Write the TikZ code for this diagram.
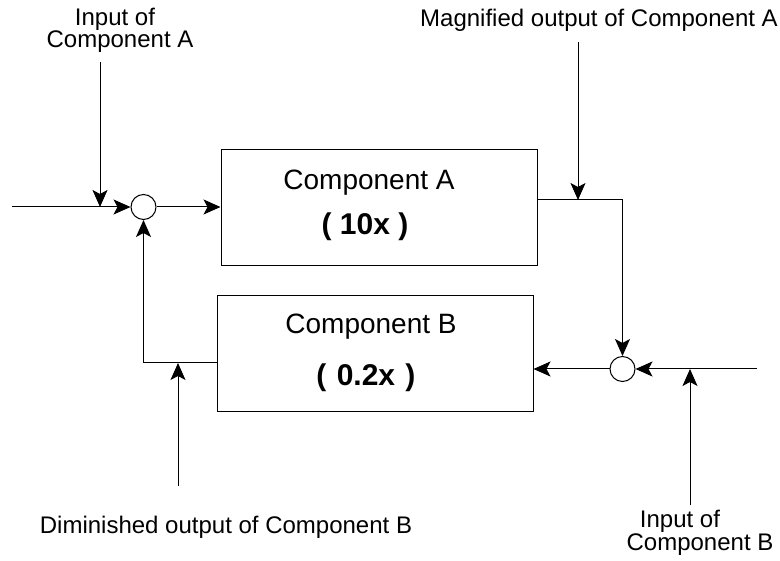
\documentclass[tikz,border=0pt]{standalone}
\usepackage{fontspec}
\setmainfont{Liberation Sans}
\usetikzlibrary{arrows.meta}
\begin{document}
\begin{tikzpicture}[x=1pt,y=-1pt,
  line width=1pt,
  arr/.style={-{Stealth[length=17pt,width=15pt,inset=4pt]}},
  box/.style={draw,rectangle,minimum width=316pt,minimum height=116pt,inner sep=0pt},
  sumnode/.style={draw,circle,minimum size=25pt,inner sep=0pt},
  lbl/.style={font=\fontsize{24}{27}\selectfont,inner sep=0pt},
  big/.style={font=\fontsize{28}{32}\selectfont,inner sep=0pt},
  bigb/.style={font=\fontsize{30}{34}\selectfont\bfseries,inner sep=0pt}]
\useasboundingbox (0,0) rectangle (780,561);
% boxes
\node[box] (boxA) at (379,208) {};
\node[box] (boxB) at (375,354) {};
\node[big] (tA) at (369,183) {Component A};
\node[bigb] (gA) at (365,227) {( 10x )};
\node[big] (tB) at (371,327) {Component B};
\node[bigb] (gB) at (366,378) {(\hspace{2pt} 0.2x \hspace{2pt})};
% summing junctions
\node[sumnode] (s1) at (143.5,207) {};
\node[sumnode] (s2) at (622.5,369) {};
% labels
\node[lbl] (labA1) at (115,19) {Input of};
\node[lbl] (labA2) at (120,42) {Component A};
\node[lbl] (labM) at (599,20) {Magnified output of Component A};
\node[lbl] (labD) at (226,527) {Diminished output of Component B};
\node[lbl] (labB1) at (680,521) {Input of};
\node[lbl] (labB2) at (700,545) {Component B};
% coordinates
\coordinate (inA) at (12,207);
\coordinate (pA) at (100,62);
\coordinate (fb) at (143.5,363);
\coordinate (pD) at (178,486);
\coordinate (oA) at (622.5,200);
\coordinate (pM) at (578,42);
\coordinate (inB) at (757,369);
\coordinate (pB) at (690,505);
% connectors
\draw[arr] (inA) -- (s1.west);
\draw[arr] (pA) -- (pA |- inA);
\draw[arr] (s1.east) -- (boxA.west |- s1);
\draw[arr] (boxB.west |- fb) -- (fb) -- (s1.south);
\draw[arr] (pD) -- (pD |- fb);
\draw[arr] (boxA.east |- oA) -- (oA) -- (s2.north);
\draw[arr] (pM) -- (pM |- oA);
\draw[arr] (inB) -- (s2.east);
\draw[arr] (s2.west) -- (boxB.east |- s2);
\draw[arr] (pB) -- (pB |- inB);
\end{tikzpicture}
\end{document}
